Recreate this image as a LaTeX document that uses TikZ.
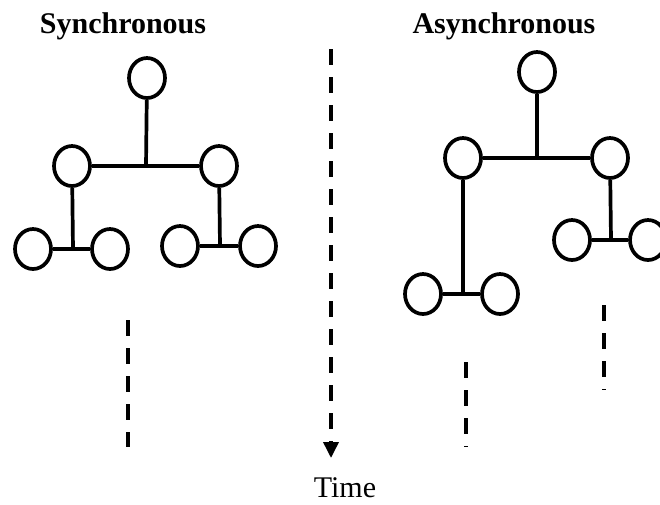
\documentclass[tikz,border=0pt]{standalone}
\usepackage{fontspec}
\setmainfont{Liberation Serif}
\usetikzlibrary{shapes.geometric,arrows.meta}
\tikzset{
  tnode/.style={ellipse, draw=black, line width=3.7pt, minimum width=36pt, minimum height=40pt, inner sep=0pt},
  tedge/.style={line width=3.7pt, draw=black},
  tdash/.style={line width=3.6pt, draw=black, dash pattern=on 16pt off 12pt},
  ttitle/.style={font=\fontsize{30pt}{36pt}\selectfont\bfseries, anchor=base, inner sep=0pt},
  tlabel/.style={font=\fontsize{30pt}{36pt}\selectfont, anchor=base, inner sep=0pt}
}
\begin{document}
\begin{tikzpicture}[x=1pt,y=-1pt]
\useasboundingbox (0,0) rectangle (660,504);
\clip (0,0) rectangle (660,504);
% titles
\node[ttitle] (tsync) at (123,33) {Synchronous};
\node[ttitle] (tasync) at (504,33) {Asynchronous};
\node[tlabel] (ttime) at (345,497) {Time};
% synchronous tree
\node[tnode] (s0) at (147,78) {};
\node[tnode] (s1) at (72,166) {};
\node[tnode] (s2) at (219,166) {};
\node[tnode] (s11) at (33,249) {};
\node[tnode] (s12) at (110,249) {};
\node[tnode] (s21) at (180,246) {};
\node[tnode] (s22) at (258,246) {};
\coordinate (sj0) at (146,166);
\coordinate (sj1) at (73,249);
\coordinate (sj2) at (220,246);
\draw[tedge] (s0) -- (sj0);
\draw[tedge] (s1) -- (s2);
\draw[tedge] (s1) -- (sj1);
\draw[tedge] (s11) -- (s12);
\draw[tedge] (s2) -- (sj2);
\draw[tedge] (s21) -- (s22);
% asynchronous tree
\node[tnode] (a0) at (537,72) {};
\node[tnode] (a1) at (463,158) {};
\node[tnode] (a2) at (610,158) {};
\node[tnode] (a11) at (423,294) {};
\node[tnode] (a12) at (500,294) {};
\node[tnode] (a21) at (572,240) {};
\node[tnode] (a22) at (648,240) {};
\coordinate (aj0) at (537,158);
\coordinate (aj1) at (463,294);
\coordinate (aj2) at (611,240);
\draw[tedge] (a0) -- (aj0);
\draw[tedge] (a1) -- (a2);
\draw[tedge] (a1) -- (aj1);
\draw[tedge] (a11) -- (a12);
\draw[tedge] (a2) -- (aj2);
\draw[tedge] (a21) -- (a22);
% time arrow
\coordinate (t0) at (331,49);
\coordinate (t1) at (331,458);
\draw[tdash, -{Triangle[length=16pt,width=15pt]}] (t0) -- (t1);
% continuation dashes
\coordinate (d1a) at (128,320);
\coordinate (d1b) at (128,447);
\draw[tdash] (d1a) -- (d1b);
\coordinate (d2a) at (466,362);
\coordinate (d2b) at (466,447);
\draw[tdash] (d2a) -- (d2b);
\coordinate (d3a) at (604,305);
\coordinate (d3b) at (604,390);
\draw[tdash] (d3a) -- (d3b);
\end{tikzpicture}
\end{document}
